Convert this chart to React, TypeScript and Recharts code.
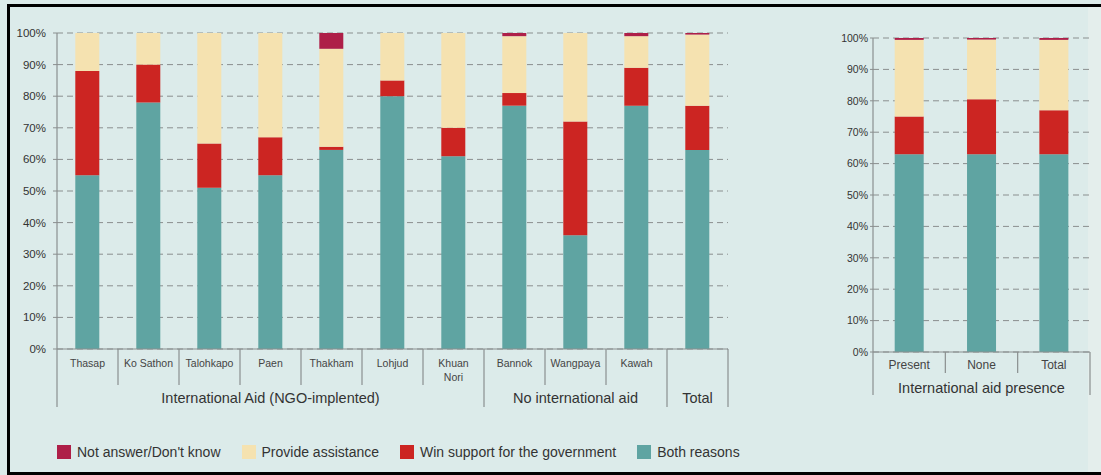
import { Bar, BarChart, CartesianGrid, XAxis, YAxis } from 'recharts';

const villages = ['Thasap', 'Ko Sathon', 'Talohkapo', 'Paen', 'Thakham', 'Lohjud', 'Khuan Nori', 'Bannok', 'Wangpaya', 'Kawah', 'Total'];
const villageLabels = ['Thasap', 'Ko Sathon', 'Talohkapo', 'Paen', 'Thakham', 'Lohjud', 'Khuan|Nori', 'Bannok', 'Wangpaya', 'Kawah', ''];
const villageGroups = [
    'International Aid (NGO-implented)', 'International Aid (NGO-implented)', 'International Aid (NGO-implented)',
    'International Aid (NGO-implented)', 'International Aid (NGO-implented)', 'International Aid (NGO-implented)',
    'International Aid (NGO-implented)', 'No international aid', 'No international aid', 'No international aid', 'Total',
];
const bothReasons = [55, 78, 51, 55, 63, 80, 61, 77, 36, 77, 63];
const winSupport = [33, 12, 14, 12, 1, 5, 9, 4, 36, 12, 14];
const provideAssistance = [12, 10, 35, 33, 31, 15, 30, 18, 28, 10, 22.5];
const notAnswer = [0, 0, 0, 0, 5, 0, 0, 1, 0, 1, 0.5];

const presence = ['Present', 'None', 'Total'];
const presenceGroup = 'International aid presence';
const presenceBoth = [63, 63, 63];
const presenceWin = [12, 17.5, 14];
const presenceProvide = [24.4, 19, 22.4];
const presenceNotAnswer = [0.6, 0.5, 0.6];

const yTicks = [0, 10, 20, 30, 40, 50, 60, 70, 80, 90, 100];

const SERIES = [
    {key: 'both', name: 'Both reasons', color: '#5fa4a2'},
    {key: 'win', name: 'Win support for the government', color: '#cc2522'},
    {key: 'provide', name: 'Provide assistance', color: '#f5e2b0'},
    {key: 'na', name: "Not answer/Don't know", color: '#ae1f48'},
];
const LEGEND_ORDER = ['na', 'provide', 'win', 'both'];

const FONT = '"Liberation Sans", Arial, sans-serif';
const BG = '#dcebea';
const AXIS = '#8a8f8f';
const TEXT = '#333';

const leftData = villages.map((v, i) => ({
    name: v,
    both: bothReasons[i],
    win: winSupport[i],
    provide: provideAssistance[i],
    na: notAnswer[i],
}));

const rightData = presence.map((p, i) => ({
    name: p,
    both: presenceBoth[i],
    win: presenceWin[i],
    provide: presenceProvide[i],
    na: presenceNotAnswer[i],
}));

// left chart geometry
const L_W = 740;
const L_H = 420;
const L_MARGIN = {top: 33, right: 12, bottom: 11, left: 7};
const L_YW = 50;
const L_BAND = (L_W - L_MARGIN.left - L_MARGIN.right - L_YW) / villages.length;

// right chart geometry
const R_LEFT = 790;
const R_W = 310;
const R_H = 420;
const R_MARGIN = {top: 38, right: 10, bottom: 18, left: 33};
const R_YW = 50;
const R_BAND = (R_W - R_MARGIN.left - R_MARGIN.right - R_YW) / presence.length;

const VillageTick = (props: any) => {
    const {x, y, payload} = props;
    const i = payload.index;
    const label = villageLabels[i];
    const group = villageGroups[i];
    const groupStart = i === 0 || villageGroups[i - 1] !== group;
    const last = i === villages.length - 1;
    const lines = label.split('|');
    let groupLabel = null;
    if (groupStart) {
        const size = villageGroups.filter(g => g === group).length;
        groupLabel = (
            <text x={x - L_BAND / 2 + (size * L_BAND) / 2} y={y + 54} textAnchor={'middle'} fontSize={14.5} fill={TEXT}>
                {group}
            </text>
        );
    }
    return (
        <g fontFamily={FONT}>
            {lines.map((ln: string, k: number) => (
                <text key={k} x={x} y={y + 18 + k * 14} textAnchor={'middle'} fontSize={10.5} fill={'#444'}>
                    {ln}
                </text>
            ))}
            <line x1={x - L_BAND / 2} x2={x - L_BAND / 2} y1={y} y2={groupStart ? y + 58 : y + 36} stroke={AXIS} strokeWidth={1.2} />
            {last && <line x1={x + L_BAND / 2} x2={x + L_BAND / 2} y1={y} y2={y + 58} stroke={AXIS} strokeWidth={1.2} />}
            {groupLabel}
        </g>
    );
};

const PresenceTick = (props: any) => {
    const {x, y, payload} = props;
    const i = payload.index;
    const last = i === presence.length - 1;
    return (
        <g fontFamily={FONT}>
            <text x={x} y={y + 17} textAnchor={'middle'} fontSize={12} fill={'#444'}>{payload.value}</text>
            <line x1={x - R_BAND / 2} x2={x - R_BAND / 2} y1={y} y2={i === 0 ? y + 43 : y + 21} stroke={AXIS} strokeWidth={1.2} />
            {last && <line x1={x + R_BAND / 2} x2={x + R_BAND / 2} y1={y} y2={y + 43} stroke={AXIS} strokeWidth={1.2} />}
            {i === 1 && (
                <text x={x} y={y + 41} textAnchor={'middle'} fontSize={14.5} fill={TEXT}>{presenceGroup}</text>
            )}
        </g>
    );
};

const renderBars = () => SERIES.map(s => (
    <Bar
        key={s.key}
        dataKey={s.key}
        name={s.name}
        stackId={'a'}
        fill={s.color}
        isAnimationActive={false}
    />
));

export default function App() {
    return (
        <div style={{position: 'absolute', left: 0, top: 0, width: 1101, height: 475, background: BG, fontFamily: FONT, overflow: 'hidden'}}>
            <div style={{position: 'absolute', left: 7, top: 4, width: 1101, height: 465, borderLeft: '3px solid #000', borderTop: '3px solid #000', borderBottom: '3px solid #000'}} />
            <div style={{position: 'absolute', left: 1088, top: 7, width: 13, height: 465, background: '#e4eeec'}} />

            <div style={{position: 'absolute', left: 0, top: 0}}>
                <BarChart width={L_W} height={L_H} data={leftData} margin={L_MARGIN} barCategoryGap={'30%'}>
                    <CartesianGrid vertical={false} stroke={AXIS} strokeDasharray={'6 4'} />
                    <XAxis
                        dataKey={'name'}
                        interval={0}
                        height={60}
                        tickLine={false}
                        tickSize={0}
                        tickMargin={0}
                        axisLine={{stroke: AXIS, strokeWidth: 1.2}}
                        tick={<VillageTick />}
                    />
                    <YAxis
                        width={L_YW}
                        domain={[0, 100]}
                        ticks={yTicks}
                        interval={0}
                        tickFormatter={(v: number) => `${v}%`}
                        tickSize={4}
                        tickMargin={7}
                        tickLine={{stroke: AXIS}}
                        axisLine={{stroke: AXIS, strokeWidth: 1.2}}
                        tick={{fontSize: 11.5, fill: TEXT, fontFamily: FONT}}
                    />
                    {renderBars()}
                </BarChart>
            </div>

            <div style={{position: 'absolute', left: R_LEFT, top: 0}}>
                <BarChart width={R_W} height={R_H} data={rightData} margin={R_MARGIN} barCategoryGap={'30%'}>
                    <CartesianGrid vertical={false} stroke={AXIS} strokeDasharray={'6 4'} />
                    <XAxis
                        dataKey={'name'}
                        interval={0}
                        height={50}
                        tickLine={false}
                        tickSize={0}
                        tickMargin={0}
                        axisLine={{stroke: AXIS, strokeWidth: 1.2}}
                        tick={<PresenceTick />}
                    />
                    <YAxis
                        width={R_YW}
                        domain={[0, 100]}
                        ticks={yTicks}
                        interval={0}
                        tickFormatter={(v: number) => `${v}%`}
                        tickSize={3}
                        tickMargin={2}
                        tickLine={{stroke: AXIS}}
                        axisLine={{stroke: AXIS, strokeWidth: 1.2}}
                        tick={{fontSize: 10.5, fill: TEXT, fontFamily: FONT}}
                    />
                    {renderBars()}
                </BarChart>
            </div>

            <div style={{position: 'absolute', left: 57, top: 444, display: 'flex', alignItems: 'center', gap: 21, fontSize: 14, color: TEXT}}>
                {LEGEND_ORDER.map(k => {
                    const s = SERIES.find(x => x.key === k)!;
                    return (
                        <div key={k} style={{display: 'flex', alignItems: 'center'}}>
                            <span style={{display: 'inline-block', width: 14, height: 14, background: s.color, marginRight: 6}} />
                            <span>{s.name}</span>
                        </div>
                    );
                })}
            </div>
        </div>
    );
}
